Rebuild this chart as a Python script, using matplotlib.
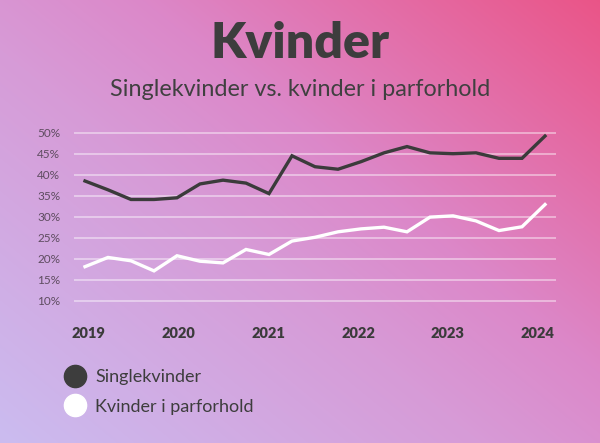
import numpy as np
import matplotlib
matplotlib.use("Agg")
import matplotlib.pyplot as plt
from matplotlib.colors import LinearSegmentedColormap
from matplotlib.lines import Line2D

# ---- data ----
years = ["2019", "2020", "2021", "2022", "2023", "2024"]
single = [38.5, 36.4, 34.1, 34.1, 34.5, 37.8, 38.7, 38.0, 35.5, 44.5, 41.9,
          41.3, 43.1, 45.2, 46.7, 45.2, 45.0, 45.2, 43.9, 43.9, 49.2]
couple = [18.1, 20.3, 19.5, 17.1, 20.7, 19.4, 19.0, 22.2, 21.0, 24.2, 25.1,
          26.4, 27.1, 27.5, 26.4, 29.9, 30.2, 29.0, 26.7, 27.6, 32.9]
yticks = [10, 15, 20, 25, 30, 35, 40, 45, 50]
series_names = ["Singlekvinder", "Kvinder i parforhold"]

W, H = 600, 443
fig = plt.figure(figsize=(W / 100, H / 100), dpi=100)

# ---- background gradient ----
bg = fig.add_axes([0, 0, 1, 1], zorder=-10)
xx, yy = np.meshgrid(np.linspace(0, 1, W), np.linspace(1, 0, H))
t = (xx * W * 0.9 + yy * H * 1.1) / (W * 0.9 + H * 1.1)
cmap = LinearSegmentedColormap.from_list(
    "bg", [(0, "#cbbcf0"), (0.42, "#d79bd7"), (0.6, "#dc88c9"), (1, "#ea5588")])
bg.imshow(t, cmap=cmap, aspect="auto", extent=[0, 1, 0, 1], vmin=0, vmax=1)
bg.set_axis_off()

# ---- main axes ----
ax = fig.add_axes([74 / W, 1 - 309.1 / H, 482 / W, (309.1 - 124.3) / H])
ax.set_facecolor("none")
x = np.arange(len(single))
ax.set_xlim(-0.478, len(single) - 1 + 0.478)
ax.set_ylim(8, 52)
for v in yticks:
    ax.axhline(v, color="white", alpha=0.55, lw=1.1, zorder=1)
ax.plot(x, single, color="#3b3b3b", lw=2.4, zorder=3, solid_joinstyle="miter")
ax.plot(x, couple, color="white", lw=2.4, zorder=3, solid_joinstyle="miter")

for s in ax.spines.values():
    s.set_visible(False)
ax.set_yticks(yticks)
ax.set_yticklabels([f"{v}%" for v in yticks], fontsize=8.5, color="#5e4c60",
                   family=["Lato", "DejaVu Sans"])
ax.tick_params(axis="y", length=0, pad=10)
year_pos = [0.17 + 3.9 * i for i in range(len(years))]
ax.set_xticks(year_pos)
ax.set_xticklabels(years, fontsize=10.5, fontweight="heavy", color="#3b3b3b",
                   family=["Lato", "DejaVu Sans"])
ax.tick_params(axis="x", length=0, pad=13)

# ---- titles ----
fig.text(0.5, 1 - 44 / H, "Kvinder", ha="center", va="center", fontsize=36,
         fontweight="heavy", color="#3d3d3d", family=["Lato", "DejaVu Sans"])
fig.text(0.5, 1 - 90 / H, "Singlekvinder vs. kvinder i parforhold", ha="center",
         va="center", fontsize=16.8, color="#404040", family=["Lato", "DejaVu Sans"])

# ---- legend ----
handles = [
    Line2D([], [], marker="o", ls="none", markersize=16, markerfacecolor="#3d3d3d",
           markeredgecolor="#3d3d3d"),
    Line2D([], [], marker="o", ls="none", markersize=16, markerfacecolor="white",
           markeredgecolor="white"),
]
leg = fig.legend(handles, series_names, loc="upper left",
                 bbox_to_anchor=(50 / W, 1 - 362 / H), frameon=False,
                 prop={"family": ["Lato", "DejaVu Sans"], "size": 13},
                 handletextpad=0.1, labelspacing=0.75, borderaxespad=0)
for txt in leg.get_texts():
    txt.set_color("#3d3d3d")

fig.savefig("out.png", dpi=100)
